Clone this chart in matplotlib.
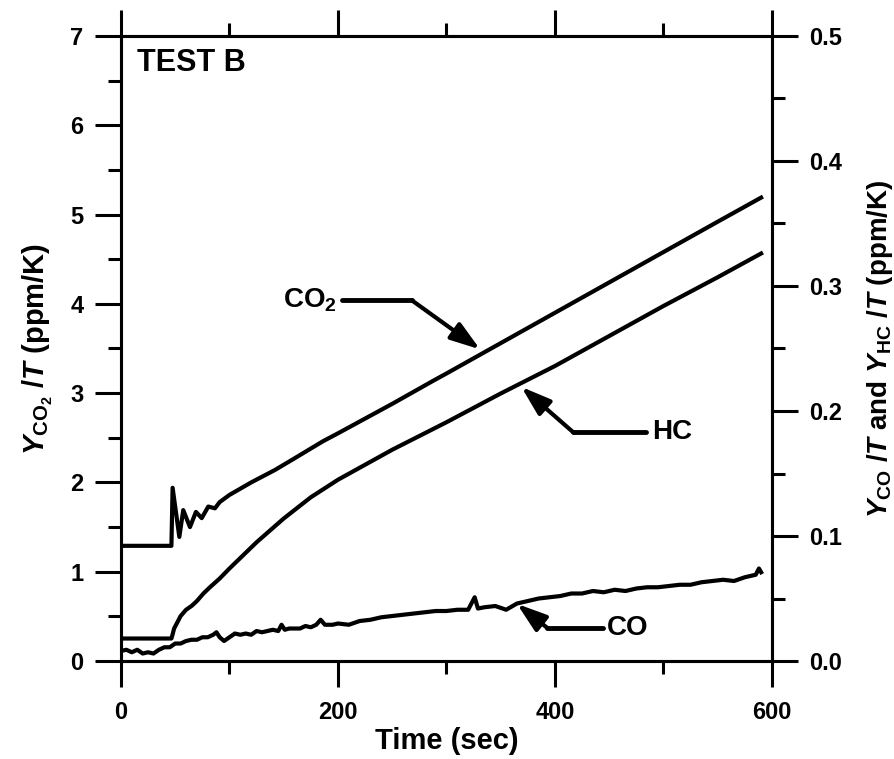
import numpy as np
import matplotlib
matplotlib.use('Agg')
import matplotlib.pyplot as plt
from matplotlib.ticker import MultipleLocator, FormatStrFormatter

plt.rcParams['font.family'] = ['Liberation Sans', 'DejaVu Sans']
plt.rcParams['font.weight'] = 'bold'
plt.rcParams['axes.labelweight'] = 'bold'
plt.rcParams['mathtext.fontset'] = 'custom'
plt.rcParams['mathtext.rm'] = 'Liberation Sans:bold'
plt.rcParams['mathtext.it'] = 'Liberation Sans:bold:italic'
plt.rcParams['mathtext.bf'] = 'Liberation Sans:bold'

# CO2 / T (left axis, ppm/K)
t_co2 = [0, 46.5, 47.6, 53.8, 57.4, 63.6, 69.1, 74.4, 80.5, 86.6, 91, 100, 120, 142,
         160, 186, 200, 250, 288, 300, 350, 400, 450, 500, 550, 590]
co2 = [1.29, 1.29, 1.94, 1.39, 1.69, 1.50, 1.67, 1.60, 1.73, 1.71, 1.78, 1.86, 2.00, 2.14,
       2.27, 2.46, 2.55, 2.88, 3.14, 3.22, 3.56, 3.90, 4.24, 4.58, 4.92, 5.19]

# HC / T (right axis, ppm/K)
t_hc = [0, 46.5, 47.5, 49, 52, 55, 60, 65, 70, 76, 82, 91, 100, 125, 150, 175,
        200, 250, 300, 350, 400, 450, 500, 550, 590]
hc = [0.018, 0.018, 0.021, 0.026, 0.031, 0.036, 0.041, 0.044, 0.048, 0.054, 0.059, 0.066,
      0.074, 0.095, 0.114, 0.131, 0.145, 0.169, 0.191, 0.214, 0.236, 0.260, 0.284, 0.307, 0.326]

# CO / T (right axis, ppm/K)
t_co = [0, 5, 10, 15, 20, 25, 30, 35, 40, 45, 50, 55, 60, 65, 70, 75, 80, 85, 88, 91,
        95, 100, 105, 110, 115, 120, 125, 130, 135, 140, 145, 148, 151, 155, 160, 165,
        170, 175, 180, 184, 188, 195, 200, 210, 220, 230, 240, 250, 260, 270, 280, 290,
        300, 310, 320, 326, 329, 335, 345, 355, 365, 375, 385, 395, 405, 415, 425, 435,
        445, 455, 465, 475, 485, 495, 505, 515, 525, 535, 545, 555, 565, 575, 585, 588, 590]
co = [0.008, 0.009, 0.007, 0.009, 0.006, 0.007, 0.006, 0.009, 0.011, 0.011, 0.014, 0.014,
      0.016, 0.017, 0.017, 0.019, 0.019, 0.021, 0.023, 0.019, 0.016, 0.019, 0.022, 0.021,
      0.022, 0.021, 0.024, 0.023, 0.024, 0.025, 0.024, 0.029, 0.025, 0.026, 0.026, 0.026,
      0.028, 0.027, 0.029, 0.033, 0.029, 0.029, 0.030, 0.029, 0.032, 0.033, 0.035, 0.036,
      0.037, 0.038, 0.039, 0.040, 0.040, 0.041, 0.041, 0.051, 0.042, 0.043, 0.044, 0.041,
      0.046, 0.048, 0.050, 0.051, 0.052, 0.054, 0.054, 0.056, 0.055, 0.057, 0.056, 0.058,
      0.059, 0.059, 0.060, 0.061, 0.061, 0.063, 0.064, 0.065, 0.064, 0.067, 0.069, 0.074, 0.071]

fig = plt.figure(figsize=(8.94, 7.59), dpi=100)
ax = fig.add_axes([0.1353, 0.1291, 0.7282, 0.8235])
ax2 = ax.twinx()

lw = 3
ax.plot(t_co2, co2, color='black', lw=lw, solid_joinstyle='round')
ax2.plot(t_hc, hc, color='black', lw=lw, solid_joinstyle='round')
ax2.plot(t_co, co, color='black', lw=lw, solid_joinstyle='round')

ax.set_xlim(0, 600)
ax.set_ylim(0, 7)
ax2.set_ylim(0, 0.5)

ax.xaxis.set_major_locator(MultipleLocator(200))
ax.xaxis.set_minor_locator(MultipleLocator(100))
ax.yaxis.set_major_locator(MultipleLocator(1))
ax.yaxis.set_minor_locator(MultipleLocator(0.5))
ax2.yaxis.set_major_locator(MultipleLocator(0.1))
ax2.yaxis.set_minor_locator(MultipleLocator(0.05))
ax2.yaxis.set_major_formatter(FormatStrFormatter('%.1f'))

for a in (ax, ax2):
    for s in a.spines.values():
        s.set_linewidth(2.2)
ax.tick_params(axis='both', which='both', direction='out', width=2.2, labelsize=17)
ax.tick_params(axis='x', which='both', top=True)
ax.tick_params(which='major', length=19)
ax.tick_params(which='minor', length=9.5)
ax.tick_params(axis='x', pad=10)
ax.tick_params(axis='y', pad=8)
ax2.tick_params(axis='y', which='both', direction='out', width=2.2, labelsize=17, pad=8)
ax2.tick_params(which='major', length=19)
ax2.tick_params(which='minor', length=9.5)

ax.set_xlabel('Time (sec)', fontsize=21, fontweight='bold', labelpad=2)
ax.set_ylabel(r'$Y_{\mathrm{CO_2}}$ /$T$ (ppm/K)', fontsize=21, fontweight='bold', labelpad=11)
ax2.set_ylabel(r'$Y_{\mathrm{CO}}$ /$T$ and $Y_{\mathrm{HC}}$ /$T$ (ppm/K)', fontsize=20,
               fontweight='bold', labelpad=16)

ax.text(0.025, 0.98, 'TEST B', transform=ax.transAxes, fontsize=22, fontweight='heavy',
        va='top', ha='left')

# arrows with elbow labels (left-axis coords)
arr = dict(arrowstyle='-|>,head_length=0.9,head_width=0.3', color='black', lw=3,
           mutation_scale=20, shrinkA=0, shrinkB=0)
ax.text(199, 4.04, r'CO$_2$', fontsize=20, ha='right', va='center')
ax.plot([204, 268], [4.04, 4.04], color='black', lw=3.5, solid_capstyle='round')
ax.annotate('', xy=(331, 3.49), xytext=(268, 4.04), arrowprops=arr)

ax.text(490, 2.56, 'HC', fontsize=20, ha='left', va='center')
ax.plot([484, 417], [2.56, 2.56], color='black', lw=3.5, solid_capstyle='round')
ax.annotate('', xy=(369, 3.07), xytext=(417, 2.56), arrowprops=arr)

ax.text(448, 0.37, 'CO', fontsize=20, ha='left', va='center')
ax.plot([444, 393], [0.37, 0.37], color='black', lw=3.5, solid_capstyle='round')
ax.annotate('', xy=(365, 0.64), xytext=(393, 0.37), arrowprops=arr)

fig.savefig('out.png', dpi=100)
